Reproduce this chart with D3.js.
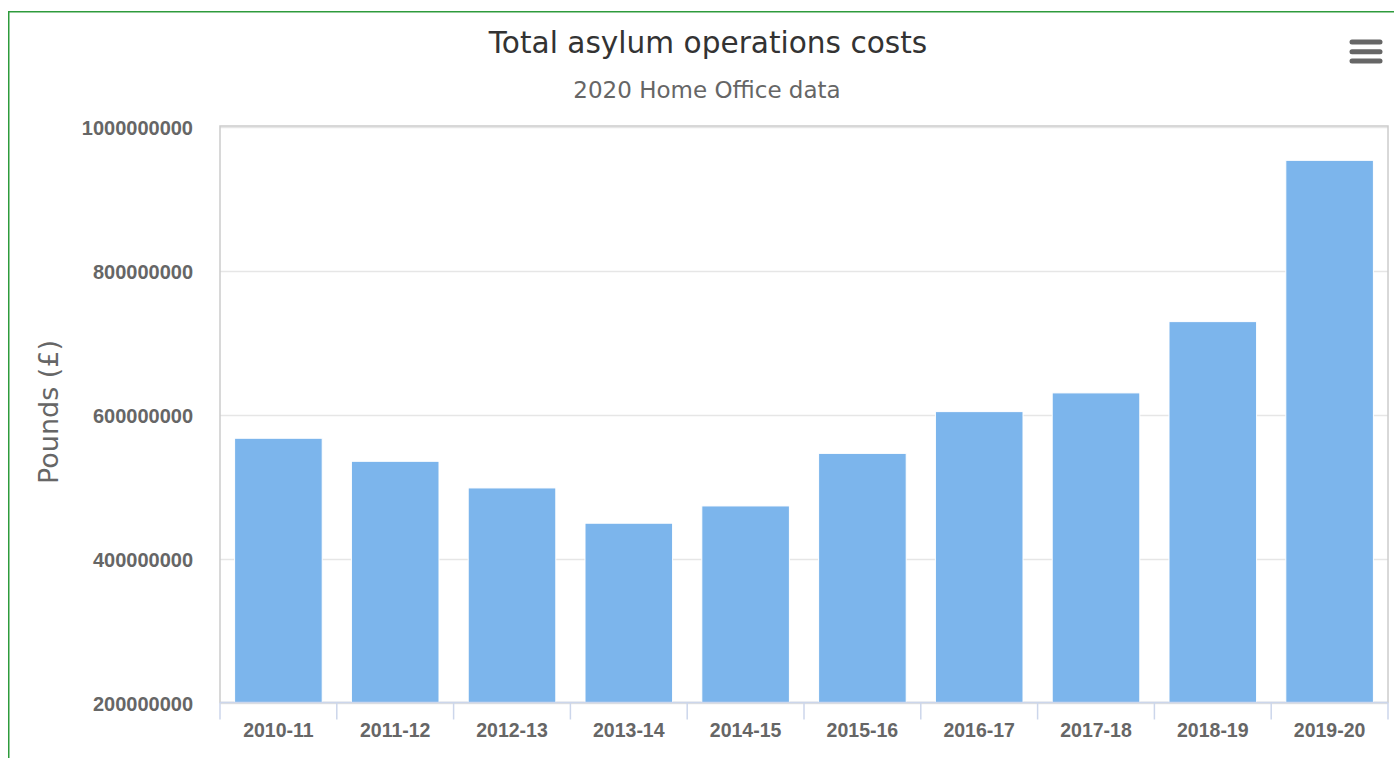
<!DOCTYPE html>
<html>
<head>
<meta charset="utf-8">
<script src="https://cdn.jsdelivr.net/npm/d3@7/dist/d3.min.js"></script>
<style>
  html, body { margin: 0; padding: 0; background: #fff; }
  svg { display: block; font-family: "DejaVu Sans", Verdana, sans-serif; }
  .axis-label { font-family: "Liberation Sans", Arial, sans-serif; font-weight: bold; }
</style>
</head>
<body>
<svg id="chart" width="1394" height="758"></svg>
<script>
// Financial years and total asylum operations costs (£)
const years = ["2010-11", "2011-12", "2012-13", "2013-14", "2014-15",
               "2015-16", "2016-17", "2017-18", "2018-19", "2019-20"];
const costs = [567000000, 535000000, 498000000, 449000000, 473000000,
               546000000, 604000000, 630000000, 729000000, 953000000];
const yTicks = [200000000, 400000000, 600000000, 800000000, 1000000000];

const titleText = "Total asylum operations costs";
const subtitleText = "2020 Home Office data";
const yAxisTitle = "Pounds (£)";

const svg = d3.select("#chart");

// container frame
svg.append("rect")
  .attr("x", 8.75).attr("y", 11.75)
  .attr("width", 1420).attr("height", 800)
  .attr("fill", "#fff")
  .attr("stroke", "#2e9b3c").attr("stroke-width", 1.5);

const plot = { left: 220, right: 1388, top: 126.5, bottom: 702.5 };

const x = d3.scaleBand()
  .domain(years)
  .range([plot.left, plot.right])
  .paddingInner(0.25)
  .paddingOuter(0.125);

const y = d3.scaleLinear()
  .domain([200000000, 1000000000])
  .range([plot.bottom, plot.top]);

// titles
svg.append("text")
  .attr("x", 708).attr("y", 53)
  .attr("text-anchor", "middle")
  .attr("font-size", 29.6)
  .attr("fill", "#333")
  .text(titleText);

svg.append("text")
  .attr("x", 707).attr("y", 98)
  .attr("text-anchor", "middle")
  .attr("font-size", 23)
  .attr("fill", "#666")
  .text(subtitleText);

// context menu icon
const menu = svg.append("g").attr("stroke", "#666").attr("stroke-width", 5)
  .attr("stroke-linecap", "round");
[42, 51.7, 61].forEach(yy => {
  menu.append("line").attr("x1", 1352).attr("x2", 1380).attr("y1", yy).attr("y2", yy);
});

// gridlines
svg.append("g")
  .selectAll("line")
  .data(yTicks)
  .join("line")
  .attr("x1", plot.left).attr("x2", plot.right)
  .attr("y1", d => Math.round(y(d)) + 0.5).attr("y2", d => Math.round(y(d)) + 0.5)
  .attr("stroke", "#e6e6e6").attr("stroke-width", 1.5);

// plot border
svg.append("rect")
  .attr("x", plot.left).attr("y", plot.top - 0.5)
  .attr("width", plot.right - plot.left).attr("height", plot.bottom - plot.top + 0.5)
  .attr("fill", "none")
  .attr("stroke", "#cccccc").attr("stroke-width", 1.5);

// bars
svg.append("g")
  .selectAll("rect")
  .data(costs)
  .join("rect")
  .attr("x", (d, i) => x(years[i]))
  .attr("y", d => y(d))
  .attr("width", x.bandwidth())
  .attr("height", d => plot.bottom - y(d))
  .attr("fill", "#7cb5ec")
  .attr("stroke", "#ffffff").attr("stroke-width", 1);

// x axis
const xAxisG = svg.append("g");
xAxisG.append("line")
  .attr("x1", plot.left).attr("x2", plot.right)
  .attr("y1", plot.bottom).attr("y2", plot.bottom)
  .attr("stroke", "#ccd6eb").attr("stroke-width", 1.5);

const step = x.step();
const tickPos = d3.range(years.length + 1).map(i => plot.left + i * step);
xAxisG.selectAll(".tick")
  .data(tickPos)
  .join("line")
  .attr("x1", d => d).attr("x2", d => d)
  .attr("y1", plot.bottom).attr("y2", plot.bottom + 17)
  .attr("stroke", "#ccd6eb").attr("stroke-width", 1.5);

xAxisG.selectAll("text")
  .data(years)
  .join("text")
  .attr("class", "axis-label")
  .attr("x", d => x(d) + x.bandwidth() / 2)
  .attr("y", 737)
  .attr("text-anchor", "middle")
  .attr("font-size", 19.5)
  .attr("fill", "#666")
  .text(d => d);

// y axis labels
svg.append("g")
  .selectAll("text")
  .data(yTicks)
  .join("text")
  .attr("class", "axis-label")
  .attr("x", 193)
  .attr("y", d => y(d) + 8.5)
  .attr("text-anchor", "end")
  .attr("font-size", 20)
  .attr("fill", "#666")
  .text(d => d3.format("d")(d));

// y axis title
svg.append("text")
  .attr("transform", "translate(58,412) rotate(-90)")
  .attr("text-anchor", "middle")
  .attr("font-size", 27)
  .attr("fill", "#666")
  .text(yAxisTitle);
</script>
</body>
</html>
